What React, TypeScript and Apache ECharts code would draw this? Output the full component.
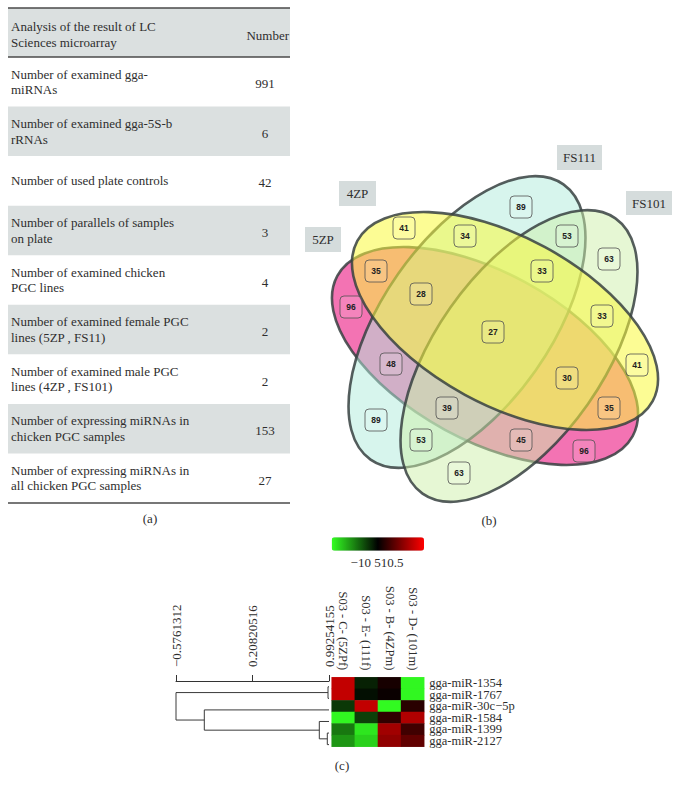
import React, { useEffect, useRef } from "react";
import * as echarts from "echarts";

// ---------- data ----------
const tableHeader = ["Analysis of the result of LC\nSciences microarray", "Number"];
const tableLabels = [
  "Number of examined gga-\nmiRNAs",
  "Number of examined gga-5S-b\nrRNAs",
  "Number of used plate controls",
  "Number of parallels of samples\non plate",
  "Number of examined chicken\nPGC lines",
  "Number of examined female PGC\nlines (5ZP , FS11)",
  "Number of examined male PGC\nlines (4ZP , FS101)",
  "Number of expressing miRNAs in\nchicken PGC samples",
  "Number of expressing miRNAs in\nall chicken PGC samples",
];
const tableNumbers = [991, 6, 42, 3, 4, 2, 2, 153, 27];

const vennSets = ["5ZP", "FS111", "FS101", "4ZP"];
const vennCounts = [89, 41, 34, 53, 63, 35, 33, 28, 96, 33, 27, 41, 48, 30, 39, 35, 89, 53, 45, 96, 63];

const sampleLabels = ["S03 - C- (5ZPf)", "S03 - E- (111f)", "S03 - B- (4ZPm)", "S03 - D- (101m)"];
const mirnaLabels = ["gga-miR-1354", "gga-miR-1767", "gga-miR-30c\u22125p", "gga-miR-1584", "gga-miR-1399", "gga-miR-2127"];
const expression = [
  [0.76, -0.13, 0.09, -0.97],
  [0.76, -0.06, 0.04, -0.97],
  [-0.22, 0.76, -0.98, 0.16],
  [-0.97, -0.25, 0.19, 0.69],
  [-0.47, -0.9, 0.63, 0.25],
  [-0.59, -0.82, 0.57, 0.38],
];
const colorScaleLabel = "\u221210 510.5";
const dendroTickValues = [-0.5761312, 0.20820516, 0.99254155];
const dendroTickLabels = ["\u22120.5761312", "0.20820516", "0.99254155"];
// merges: [childA, childB, height]; leaves 0..5, merge k is node 6+k
const dendroMerges = [
  [0, 1, 0.9823],
  [4, 5, 0.9751],
  [3, 7, 0.8931],
  [2, 8, -0.286],
  [6, 9, -0.5761312],
];

// ---------- layout ----------
const SERIF = "'Liberation Serif', 'DejaVu Serif', serif";
const SANS = "'Liberation Sans', Arial, sans-serif";
const TXT = "#2e2e2e";

const vennLabelPos: [number, number][] = [
  [521, 207], [404, 228], [465, 236], [567, 236], [609, 259], [376, 271], [542, 271],
  [421, 294], [351, 307], [602, 316], [493, 332], [637, 365], [391, 364], [567, 378],
  [447, 408], [609, 408], [376, 420], [421, 440], [521, 440], [584, 451], [459, 473],
];
const vennEllipseLayout = [
  { cx: 485, cy: 356, rot: -28.5, fill: "rgba(240,80,160,0.8)" },
  { cx: 467, cy: 322, rot: 55, fill: "rgba(175,235,220,0.5)" },
  { cx: 519, cy: 356, rot: 55, fill: "rgba(205,240,170,0.5)" },
  { cx: 505, cy: 321, rot: -28.5, fill: "rgba(250,250,60,0.55)" },
];
const vennSetBoxes = [
  { x: 305, y: 227, w: 36, h: 25 },
  { x: 557, y: 145, w: 45, h: 25 },
  { x: 626, y: 191, w: 46, h: 24 },
  { x: 339, y: 181, w: 37, h: 25 },
];

function buildGraphics() {
  const g: any[] = [];
  // ----- table (a)
  const X0 = 8, X1 = 290, HT = 8, HB = 57, BOT = 503;
  const rowH = (BOT - HB) / tableLabels.length;
  g.push({ type: "rect", shape: { x: X0, y: HT, width: X1 - X0, height: HB - HT }, style: { fill: "#dbe0e0" } });
  tableLabels.forEach((_, i) => {
    if (i % 2 === 1) {
      g.push({ type: "rect", shape: { x: X0, y: HB + i * rowH, width: X1 - X0, height: rowH }, style: { fill: "#dbe0e0" } });
    }
  });
  [HT, HB, BOT].forEach((y) => {
    g.push({ type: "line", shape: { x1: X0, y1: y, x2: X1, y2: y }, style: { stroke: "#4a4a4a", lineWidth: 1.5 } });
  });
  g.push({
    type: "text", x: 11, y: 34,
    style: { text: tableHeader[0], font: `13px ${SERIF}`, fill: TXT, verticalAlign: "middle", lineHeight: 16 },
  });
  g.push({
    type: "text", x: 289, y: 35,
    style: { text: tableHeader[1], font: `13px ${SERIF}`, fill: TXT, align: "right", verticalAlign: "middle" },
  });
  tableLabels.forEach((lab, i) => {
    const top = HB + i * rowH;
    g.push({
      type: "text", x: 11, y: top + rowH / 2,
      style: { text: lab, font: `13px ${SERIF}`, fill: TXT, verticalAlign: "middle", lineHeight: 15.5 },
    });
    g.push({
      type: "text", x: 265, y: top + rowH / 2 + 2,
      style: { text: String(tableNumbers[i]), font: `13px ${SERIF}`, fill: TXT, align: "center", verticalAlign: "middle" },
    });
  });
  // captions
  const caps: [string, number, number][] = [["(a)", 150, 518], ["(b)", 489, 520], ["(c)", 342, 765]];
  caps.forEach(([t, x, y]) => {
    g.push({ type: "text", x, y, style: { text: t, font: `13px ${SERIF}`, fill: TXT, align: "center", verticalAlign: "middle" } });
  });

  // ----- venn (b)
  vennEllipseLayout.forEach((e) => {
    g.push({
      type: "ellipse", x: e.cx, y: e.cy, rotation: (e.rot * Math.PI) / 180,
      shape: { cx: 0, cy: 0, rx: 168, ry: 84 },
      style: { fill: e.fill, stroke: "rgba(55,65,65,0.85)", lineWidth: 2.6 },
    });
  });
  vennSets.forEach((s, i) => {
    const b = vennSetBoxes[i];
    g.push({ type: "rect", shape: { x: b.x, y: b.y, width: b.w, height: b.h }, style: { fill: "#d5dcdc" } });
    g.push({
      type: "text", x: b.x + b.w / 2, y: b.y + b.h / 2,
      style: { text: s, font: `13px ${SERIF}`, fill: TXT, align: "center", verticalAlign: "middle" },
    });
  });
  vennCounts.forEach((c, i) => {
    const [x, y] = vennLabelPos[i];
    g.push({
      type: "rect", shape: { x: x - 11, y: y - 11, width: 22, height: 22, r: 4 },
      style: { fill: "rgba(255,255,255,0.12)", stroke: "#505050", lineWidth: 0.8 },
    });
    g.push({
      type: "text", x, y,
      style: { text: String(c), font: `bold 8.5px ${SANS}`, fill: "#222", align: "center", verticalAlign: "middle" },
    });
  });

  // ----- color scale label (c)
  g.push({
    type: "text", x: 377, y: 562,
    style: { text: colorScaleLabel, font: `13px ${SERIF}`, fill: TXT, align: "center", verticalAlign: "middle" },
  });
  return g;
}

function buildDendroLines() {
  const nodes: { x: number; y: number }[] = [];
  const leafX = dendroTickValues[2];
  for (let i = 0; i < mirnaLabels.length; i++) nodes.push({ x: leafX, y: i + 0.5 });
  const out: any[] = [];
  dendroMerges.forEach(([a, b, h]) => {
    const A = nodes[a], B = nodes[b];
    out.push({ coords: [[A.x, A.y], [h, A.y], [h, B.y], [B.x, B.y]] });
    nodes.push({ x: h, y: (A.y + B.y) / 2 });
  });
  return out;
}

function buildHeatData() {
  const d: any[] = [];
  expression.forEach((row, r) => row.forEach((v, c) => d.push([c, r, v])));
  return d;
}

export default function App() {
  const ref = useRef<HTMLDivElement>(null);
  useEffect(() => {
    const chart = echarts.init(ref.current!, null, { renderer: "svg" });
    const option: any = {
      animation: false,
      backgroundColor: "#ffffff",
      grid: [
        { left: 176, top: 681, width: 153, height: 69.4, outerBoundsMode: "none" },
        { left: 331.7, top: 677.3, width: 92.5, height: 69.4, outerBoundsMode: "none" },
      ],
      xAxis: [
        {
          type: "value", gridIndex: 0, position: "top", offset: 6,
          min: dendroTickValues[0], max: dendroTickValues[2],
          axisLine: { show: true, lineStyle: { color: "#333", width: 1 } },
          axisTick: { show: true, customValues: dendroTickValues, length: 6, lineStyle: { color: "#333" } },
          axisLabel: {
            customValues: dendroTickValues, rotate: 90, margin: 8,
            fontFamily: SERIF, fontSize: 13, color: TXT,
            formatter: (v: number) => {
              let best = 0;
              dendroTickValues.forEach((t, i) => { if (Math.abs(t - v) < Math.abs(dendroTickValues[best] - v)) best = i; });
              return dendroTickLabels[best];
            },
          },
          splitLine: { show: false },
        },
        {
          type: "category", gridIndex: 1, position: "top", data: sampleLabels,
          axisLine: { show: false }, axisTick: { show: false },
          axisLabel: { rotate: 90, interval: 0, margin: 7, fontFamily: SERIF, fontSize: 12.5, color: TXT },
        },
      ],
      yAxis: [
        { type: "value", gridIndex: 0, min: 0, max: 6, inverse: true, show: false },
        {
          type: "category", gridIndex: 1, position: "right", inverse: true, data: mirnaLabels,
          axisLine: { show: false }, axisTick: { show: false },
          axisLabel: { interval: 0, margin: 5, fontFamily: SERIF, fontSize: 12.5, lineHeight: 11.5, color: TXT },
        },
      ],
      visualMap: {
        type: "continuous", seriesIndex: 1, min: -1, max: 1, calculable: false,
        orient: "horizontal", left: 331.7, top: 537.3, itemWidth: 13.4, itemHeight: 92.3, padding: 0,
        text: null, showLabel: false,
        inRange: { color: ["#33ff22", "#000000", "#ff0000"] },
      },
      series: [
        {
          type: "lines", coordinateSystem: "cartesian2d", xAxisIndex: 0, yAxisIndex: 0,
          polyline: true, silent: true, data: buildDendroLines(),
          lineStyle: { color: "#3a3a3a", width: 1, opacity: 1 },
        },
        {
          type: "heatmap", xAxisIndex: 1, yAxisIndex: 1, data: buildHeatData(), silent: true,
          itemStyle: { borderWidth: 0 },
        },
      ],
      graphic: buildGraphics(),
    };
    chart.setOption(option);
    return () => chart.dispose();
  }, []);
  return <div ref={ref} style={{ position: "absolute", left: 0, top: 0, width: 688, height: 792 }} />;
}
